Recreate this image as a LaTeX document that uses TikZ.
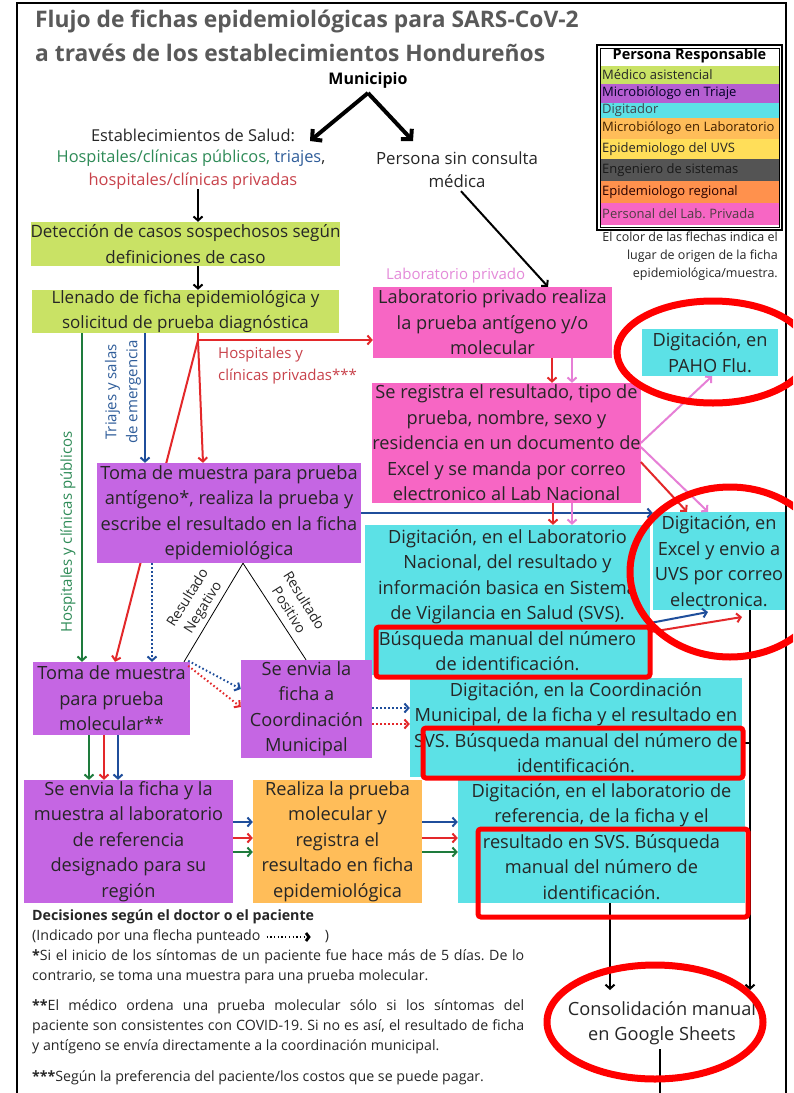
\documentclass[tikz,border=0pt]{standalone}
\usepackage{fontspec}
\setmainfont{Open Sans}
\usetikzlibrary{arrows.meta,calc,backgrounds}
\frenchspacing
\definecolor{cgreen}{HTML}{C9E265}
\definecolor{cpurple}{HTML}{C566E3}
\definecolor{ccyan}{HTML}{5CE1E6}
\definecolor{cpink}{HTML}{F766C4}
\definecolor{corange}{HTML}{FFBD59}
\definecolor{cyellow}{HTML}{FFDE59}
\definecolor{cgray}{HTML}{545454}
\definecolor{corange2}{HTML}{FF914D}
\definecolor{agreen}{HTML}{1E7B3C}
\definecolor{ared}{HTML}{E3282A}
\definecolor{ablue}{HTML}{1F4E9B}
\definecolor{apink}{HTML}{E67FD6}
\definecolor{txt}{HTML}{262626}
\definecolor{hred}{HTML}{FF0000}
\definecolor{titlegray}{HTML}{595959}
\definecolor{lblred}{HTML}{C8424B}
\definecolor{lblpink}{HTML}{E48AD9}
\definecolor{lblgreen}{HTML}{2E8B57}
\definecolor{lblblue}{HTML}{2F5D9A}
\begin{document}
\begin{tikzpicture}[x=1pt,y=-1pt,
 bx/.style={inner sep=0pt, align=center, text=txt, font=\fontsize{18.2}{25.5}\selectfont},
 gbx/.style={bx, font=\fontsize{17}{25.5}\selectfont},
 lbl/.style={inner sep=0pt, align=center},
 lg/.style={inner sep=0pt, anchor=west, text=txt, font=\fontsize{13}{16}\selectfont},
 nt/.style={inner sep=0pt, anchor=west, text=txt, font=\fontsize{14.2}{20}\selectfont},
 arr/.style={->, line width=2pt},
 dot/.style={->, line width=2pt, dash pattern=on 1.6pt off 2.4pt},
 hl/.style={draw=hred, line width=5pt, rounded corners=3pt},
 >={Straight Barb[length=4pt,width=9pt]}]
\useasboundingbox (0,0) rectangle (793,1093);
\clip (0,0) rectangle (793,1093);

% ---------- boxes ----------
\node[gbx,fill=cgreen,minimum width=307pt,minimum height=44pt] (det) at (185.5,244) {Detección de casos sospechosos según\\definiciones de caso};
\node[gbx,fill=cgreen,minimum width=307pt,minimum height=43pt] (llen) at (185.5,311.5) {Llenado de ficha epidemiológica y\\solicitud de prueba diagnóstica};
\node[bx,fill=cpink,minimum width=239pt,minimum height=71pt] (labpriv) at (492.5,322.5) {Laboratorio privado realiza\\la prueba antígeno y/o\\molecular};
\node[bx,fill=cpink,minimum width=267pt,minimum height=120pt] (reg) at (506.5,443) {Se registra el resultado, tipo de\\prueba, nombre, sexo y\\residencia en un documento de\\Excel y se manda por correo\\electronico al Lab Nacional};
\node[bx,fill=ccyan,minimum width=136pt,minimum height=47pt] (paho) at (710,352.5) {Digitación, en\\PAHO Flu.};
\node[bx,fill=cpurple,minimum width=264pt,minimum height=100pt] (anti) at (229,513) {Toma de muestra para prueba\\antígeno*, realiza la prueba y\\escribe el resultado en la ficha\\epidemiológica};
\node[bx,fill=ccyan,minimum width=285pt,minimum height=150pt] (labnac) at (507.5,600) {Digitación, en el Laboratorio\\Nacional, del resultado y\\información basica en Sistema\\de Vigilancia en Salud (SVS).\\Búsqueda manual del número\\de identificación.};
\node[bx,fill=ccyan,minimum width=132pt,minimum height=98pt] (excel) at (719,561) {Digitación, en\\Excel y envio a\\UVS por correo\\electronica.};
\node[bx,fill=cpurple,minimum width=157pt,minimum height=73pt] (molec) at (111.5,698.5) {Toma de muestra\\para prueba\\molecular**};
\node[bx,fill=cpurple,minimum width=131pt,minimum height=98pt] (envia) at (306.5,709) {Se envia la\\ficha a\\Coordinación\\Municipal};
\node[bx,fill=ccyan,minimum width=332pt,minimum height=99pt] (coord) at (576,727.5) {Digitación, en la Coordinación\\Municipal, de la ficha y el resultado en\\SVS. Búsqueda manual del número de\\identificación.};
\node[bx,fill=cpurple,minimum width=209pt,minimum height=123pt] (envref) at (128.5,841.5) {Se envia la ficha y la\\muestra al laboratorio\\de referencia\\designado para su\\región};
\node[bx,fill=corange,minimum width=169pt,minimum height=123pt] (realiza) at (337.5,841.5) {Realiza la prueba\\molecular y\\registra el\\resultado en ficha\\epidemiológica};
\node[bx,fill=ccyan,minimum width=287pt,minimum height=123pt] (digref) at (601.5,841.5) {Digitación, en el laboratorio de\\referencia, de la ficha y el\\resultado en SVS. Búsqueda\\manual del número de\\identificación.};
\node[bx] (cons) at (662,1023) {Consolidación manual\\en Google Sheets};

% ---------- background layer: white page + line behind box ----------
\coordinate (rj) at (198,340);
\begin{scope}[on background layer]
\fill[white] (0,0) rectangle (793,1093);
\draw[arr,ared] (rj) -- (molec.north -| 115,0);
\end{scope}

% ---------- frame ----------
\draw[line width=2pt] (17,1100) -- (17,3) -- (786,3) -- (786,1100);

% ---------- title ----------
\node[inner sep=0pt,anchor=base west,text=titlegray,font=\fontsize{22.8}{26}\bfseries] (t1) at (35,27) {Flujo de fichas epidemiológicas para SARS-CoV-2};
\node[inner sep=0pt,anchor=base west,text=titlegray,font=\fontsize{22.8}{26}\bfseries] (t2) at (35,61) {a través de los establecimientos Hondureños};

% ---------- legend ----------
\fill[cgreen] (600,66) rectangle (779,84);
\fill[cpurple!92!black] (600,84) rectangle (779,103);
\fill[ccyan] (600,103) rectangle (779,118);
\fill[corange] (600,118) rectangle (779,139);
\fill[cyellow] (600,139) rectangle (779,159);
\fill[cgray] (600,159) rectangle (779,181);
\fill[corange2] (600,181) rectangle (779,203);
\fill[cpink] (600,203) rectangle (779,225);
\draw[line width=1.6pt] (597,45) rectangle (782,230);
\draw[line width=0.8pt] (600,48) rectangle (779,227);
\node[inner sep=0pt,font=\fontsize{14.5}{16}\bfseries,text=black] (lgh) at (689.5,56) {Persona Responsable};
\node[lg] (lg1) at (602,75) {Médico asistencial};
\node[lg,text=black!85!blue] (lg2) at (602,93.5) {Microbiólogo en Triaje};
\node[lg,text=black!80!cyan] (lg3) at (602,110.5) {Digitador};
\node[lg,text=black!75!orange] (lg4) at (602,128.5) {Microbiólogo en Laboratorio};
\node[lg] (lg5) at (602,149) {Epidemiologo del UVS};
\node[lg,text=black!90] (lg6) at (602,170) {Engeniero de sistemas};
\node[lg,text=black!85!red] (lg7) at (602,192) {Epidemiologo regional};
\node[lg,text=black!80!magenta] (lg8) at (602,214) {Personal del Lab. Privada};
\node[inner sep=0pt,anchor=north east,align=right,text=txt,font=\fontsize{12.5}{18}\selectfont] (lgnote) at (778,232) {El color de las flechas indica el\\lugar de origen de la ficha\\epidemiológica/muestra.};

% ---------- top texts ----------
\node[inner sep=0pt,font=\fontsize{16}{20}\bfseries,text=black] (mun) at (368,80) {Municipio};
\node[inner sep=0pt,font=\fontsize{16.4}{20}\selectfont,text=txt] (est1) at (193,135) {Establecimientos de Salud:};
\node[inner sep=0pt,font=\fontsize{16.4}{20}\selectfont] (est2) at (191,158) {\textcolor{lblgreen}{Hospitales/clínicas públicos,} \textcolor{lblblue}{triajes}\textcolor{txt}{,}};
\node[inner sep=0pt,font=\fontsize{16.4}{20}\selectfont,text=lblred] (est3) at (193,181) {hospitales/clínicas privadas};
\node[inner sep=0pt,align=center,font=\fontsize{16.8}{23}\selectfont,text=txt] (pers) at (457,170) {Persona sin consulta\\médica};
\coordinate (apex) at (368,93);
\coordinate (tipL) at (310,141);
\coordinate (tipR) at (413,141);
\draw[line width=4pt,-{Straight Barb[length=7pt,width=15pt]}] (apex) -- (tipL);
\draw[line width=4pt,-{Straight Barb[length=7pt,width=15pt]}] (apex) -- (tipR);

% ---------- labels ----------
\node[inner sep=0pt,anchor=west,font=\fontsize{15}{20}\selectfont,text=lblpink] (lpl) at (386,276) {Laboratorio privado};
\node[inner sep=0pt,anchor=west,align=left,font=\fontsize{15}{22}\selectfont,text=lblred] (hcpl) at (218,366) {Hospitales y\\clínicas privadas***};
\node[lbl,rotate=90,text=lblgreen,font=\fontsize{15}{18}\selectfont] (hcp) at (68,532) {Hospitales y clínicas públicos};
\node[lbl,rotate=90,text=lblblue,font=\fontsize{15}{21}\selectfont] (tse) at (123,392) {Triajes y salas\\de emergencia};
\node[lbl,rotate=58,text=txt,font=\fontsize{14}{18}\selectfont] (neg) at (196,603) {Resultado\\Negativo};
\node[lbl,rotate=-58,text=txt,font=\fontsize{14}{18}\selectfont] (pos) at (297,605) {Resultado\\Positivo};

% ---------- connectors ----------
\draw[arr,black] (est3.south -| 198,0) -- (det.north -| 198,0);
\draw[arr,black] (det.south -| 198,0) -- (llen.north -| 198,0);
\draw[arr,agreen] (llen.south -| 82,0) -- (molec.north -| 82,0);
\draw[arr,ablue] (llen.south -| 145,0) -- (anti.north -| 145,0);
\draw[arr,ared] (llen.south -| rj) -- (rj) -- (labpriv.west |- rj);
\draw[arr,ared] (rj) -- (anti.north -| 203,0);
\draw[arr,black] (pers.south) ++(4,3) -- (labpriv.north -| 548,0);
\draw[arr,ared] (labpriv.south -| 552,0) -- (reg.north -| 552,0);
\draw[arr,apink] (labpriv.south -| 572,0) -- (reg.north -| 572,0);
\draw[arr,apink] (reg.east |- 0,443) -- (paho.south -| 712,0);
\draw[arr,apink] (reg.east |- 0,447) -- (excel.north -| 708,0);
\draw[arr,ared] (reg.east |- 0,462) -- (excel.north -| 687,0);
\draw[arr,ablue] (anti.east |- 0,513) -- (excel.west |- 0,513);
\draw[arr,ared] (reg.south -| 553,0) -- (labnac.north -| 553,0);
\draw[arr,apink] (reg.south -| 572,0) -- (labnac.north -| 572,0);
\coordinate (xb) at (708,612);
\coordinate (xr) at (742,617);
\draw[arr,ablue] (labnac.east |- 0,623) -- (xb);
\draw[arr,ared] (labnac.east |- 0,632) -- (xr);
\draw[dot,ablue] (anti.south -| 152,0) -- (molec.north -| 152,0);
\draw[line width=0.8pt] (anti.south -| 243,0) -- (molec.north -| 184,0);
\draw[line width=0.8pt] (anti.south -| 243,0) -- (envia.north -| 306,0);
\draw[dot,ablue] (molec.north east) ++(-2,-1) -- (envia.west |- 0,689);
\draw[dot,ared] (molec.north east) ++(-2,4) -- (envia.west |- 0,707);
\draw[dot,ablue] (envia.east |- 0,708) -- (coord.west |- 0,708);
\draw[dot,ared] (envia.east |- 0,724) -- (coord.west |- 0,724);
\draw[arr,agreen] (molec.south -| 89,0) -- (envref.north -| 89,0);
\draw[arr,ared] (molec.south -| 104,0) -- (envref.north -| 104,0);
\draw[arr,ablue] (molec.south -| 118,0) -- (envref.north -| 118,0);
\draw[arr,ablue] (envref.east |- 0,822) -- (realiza.west |- 0,822);
\draw[arr,ared] (envref.east |- 0,838) -- (realiza.west |- 0,838);
\draw[arr,agreen] (envref.east |- 0,852) -- (realiza.west |- 0,852);
\draw[arr,ablue] (realiza.east |- 0,822) -- (digref.west |- 0,822);
\draw[arr,ared] (realiza.east |- 0,838) -- (digref.west |- 0,838);
\draw[arr,agreen] (realiza.east |- 0,852) -- (digref.west |- 0,852);
\coordinate (vj) at (750,743);
\coordinate (c1) at (610,990);
\coordinate (c2) at (750,990);
\draw[line width=2pt] (coord.east |- vj) -- (vj);
\draw[arr,black] (excel.south -| vj) -- (c2);
\draw[arr,black] (digref.south -| c1) -- (c1);
\draw[line width=2pt] (cons.south -| 660,0) ++(0,4) -- (660,1100);

% ---------- notes ----------
\node[nt,font=\fontsize{14.2}{20}\bfseries] (n0) at (32,917) {Decisiones según el doctor o el paciente};
\node[nt] (n1) at (32,937) {(Indicado por una flecha punteado};
\coordinate (nd1) at ($(n1.east)+(6,0)$);
\coordinate (nd2) at ($(n1.east)+(50,0)$);
\draw[black,line width=2.8pt,dash pattern=on 1.3pt off 2.4pt,->,>={Straight Barb[length=3pt,width=8pt]}] (nd1) -- (nd2);
\node[nt,anchor=west] (n1b) at ($(nd2)+(14,0)$) {)};
\node[nt] (n2) at (32,957) {\makebox[492pt][s]{\textbf{*}Si el inicio de los síntomas de un paciente fue hace más de 5 días. De lo}};
\node[nt] (n3) at (32,977) {contrario, se toma una muestra para una prueba molecular.};
\node[nt] (n4) at (32,1007) {\makebox[492pt][s]{\textbf{**}El médico ordena una prueba molecular sólo si los síntomas del}};
\node[nt] (n5) at (32,1027) {\makebox[492pt][s]{paciente son consistentes con COVID-19. Si no es así, el resultado de ficha}};
\node[nt] (n6) at (32,1047) {y antígeno se envía directamente a la coordinación municipal.};
\node[nt] (n7) at (32,1078) {\textbf{***}Según la preferencia del paciente/los costos que se puede pagar.};

% ---------- red highlights ----------
\draw[hl] (376,627) rectangle (650,677);
\draw[hl] (423,728) rectangle (743,778);
\draw[hl] (478,829) rectangle (748,917);
\draw[hred,line width=7pt] (713,352) ellipse [x radius=96pt, y radius=51pt];
\draw[hred,line width=7pt] (730,572) ellipse [x radius=100pt, y radius=85pt];
\draw[hred,line width=7pt] (655,1022) ellipse [x radius=108pt, y radius=57pt];
\end{tikzpicture}
\end{document}
